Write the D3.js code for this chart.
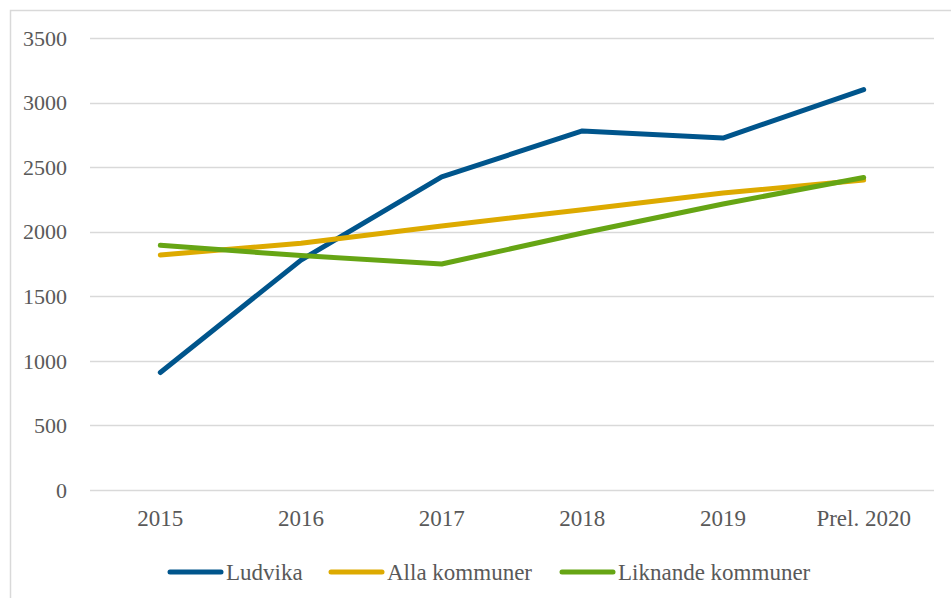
<!DOCTYPE html>
<html>
<head>
<meta charset="utf-8">
<script src="https://cdn.jsdelivr.net/npm/d3@7"></script>
<style>
  body { margin: 0; background: #fff; }
  svg { display: block; }
  svg text { font-family: "Liberation Serif", "Times New Roman", serif; fill: #595959; }
</style>
</head>
<body>
<div id="chart"></div>
<script>
var categories = ["2015", "2016", "2017", "2018", "2019", "Prel. 2020"];
var ludvika = [910, 1780, 2425, 2780, 2725, 3100];
var allaKommuner = [1820, 1910, 2045, 2170, 2300, 2400];
var liknandeKommuner = [1895, 1815, 1750, 1990, 2215, 2420];
var yTicks = [0, 500, 1000, 1500, 2000, 2500, 3000, 3500];

var series = [
  {name: "Ludvika", values: ludvika, color: "#00558c"},
  {name: "Alla kommuner", values: allaKommuner, color: "#ddaa00"},
  {name: "Liknande kommuner", values: liknandeKommuner, color: "#66a514"}
];

var W = 951, H = 598;
var margin = {top: 38, right: 17, bottom: 108, left: 90};
var width = W - margin.left - margin.right;
var height = H - margin.top - margin.bottom;

var svg = d3.select("#chart").append("svg")
    .attr("width", W)
    .attr("height", H);

// chart frame
svg.append("rect")
    .attr("x", 10.5).attr("y", 10.5)
    .attr("width", W + 10).attr("height", H + 10)
    .attr("fill", "none")
    .attr("stroke", "#d9d9d9")
    .attr("stroke-width", 1.5);

var g = svg.append("g")
    .attr("transform", "translate(" + margin.left + "," + margin.top + ")");

var x = d3.scalePoint()
    .domain(categories)
    .range([0, width])
    .padding(0.5);

var y = d3.scaleLinear()
    .domain([0, 3500])
    .range([height, 0]);

// gridlines
g.selectAll(".grid")
    .data(yTicks).enter()
    .append("line")
    .attr("class", "grid")
    .attr("x1", 0).attr("x2", width)
    .attr("y1", function(d) { return Math.round(y(d)) + 0.5; })
    .attr("y2", function(d) { return Math.round(y(d)) + 0.5; })
    .attr("stroke", "#d9d9d9")
    .attr("stroke-width", 1.5);

// y axis labels
g.selectAll(".ylab")
    .data(yTicks).enter()
    .append("text")
    .attr("x", -23)
    .attr("y", function(d) { return y(d); })
    .attr("dy", "0.35em")
    .attr("text-anchor", "end")
    .attr("font-size", 22)
    .text(function(d) { return d; });

// x axis labels
g.selectAll(".xlab")
    .data(categories).enter()
    .append("text")
    .attr("x", function(d) { return x(d); })
    .attr("y", height + 36)
    .attr("text-anchor", "middle")
    .attr("font-size", 23)
    .text(function(d) { return d; });

var line = d3.line()
    .x(function(d, i) { return x(categories[i]); })
    .y(function(d) { return y(d); });

g.selectAll(".series")
    .data(series).enter()
    .append("path")
    .attr("class", "series")
    .attr("d", function(s) { return line(s.values); })
    .attr("fill", "none")
    .attr("stroke", function(s) { return s.color; })
    .attr("stroke-width", 5)
    .attr("stroke-linecap", "round")
    .attr("stroke-linejoin", "round");

// legend
var legendX = [168, 329, 560];
var legend = svg.selectAll(".legend")
    .data(series).enter()
    .append("g")
    .attr("class", "legend")
    .attr("transform", function(s, i) { return "translate(" + legendX[i] + ",572)"; });

legend.append("line")
    .attr("x1", 2).attr("x2", 53)
    .attr("y1", 0).attr("y2", 0)
    .attr("stroke", function(s) { return s.color; })
    .attr("stroke-width", 5)
    .attr("stroke-linecap", "round");

legend.append("text")
    .attr("x", 58)
    .attr("y", 0)
    .attr("dy", "0.35em")
    .attr("font-size", 23)
    .text(function(s) { return s.name; });
</script>
</body>
</html>
